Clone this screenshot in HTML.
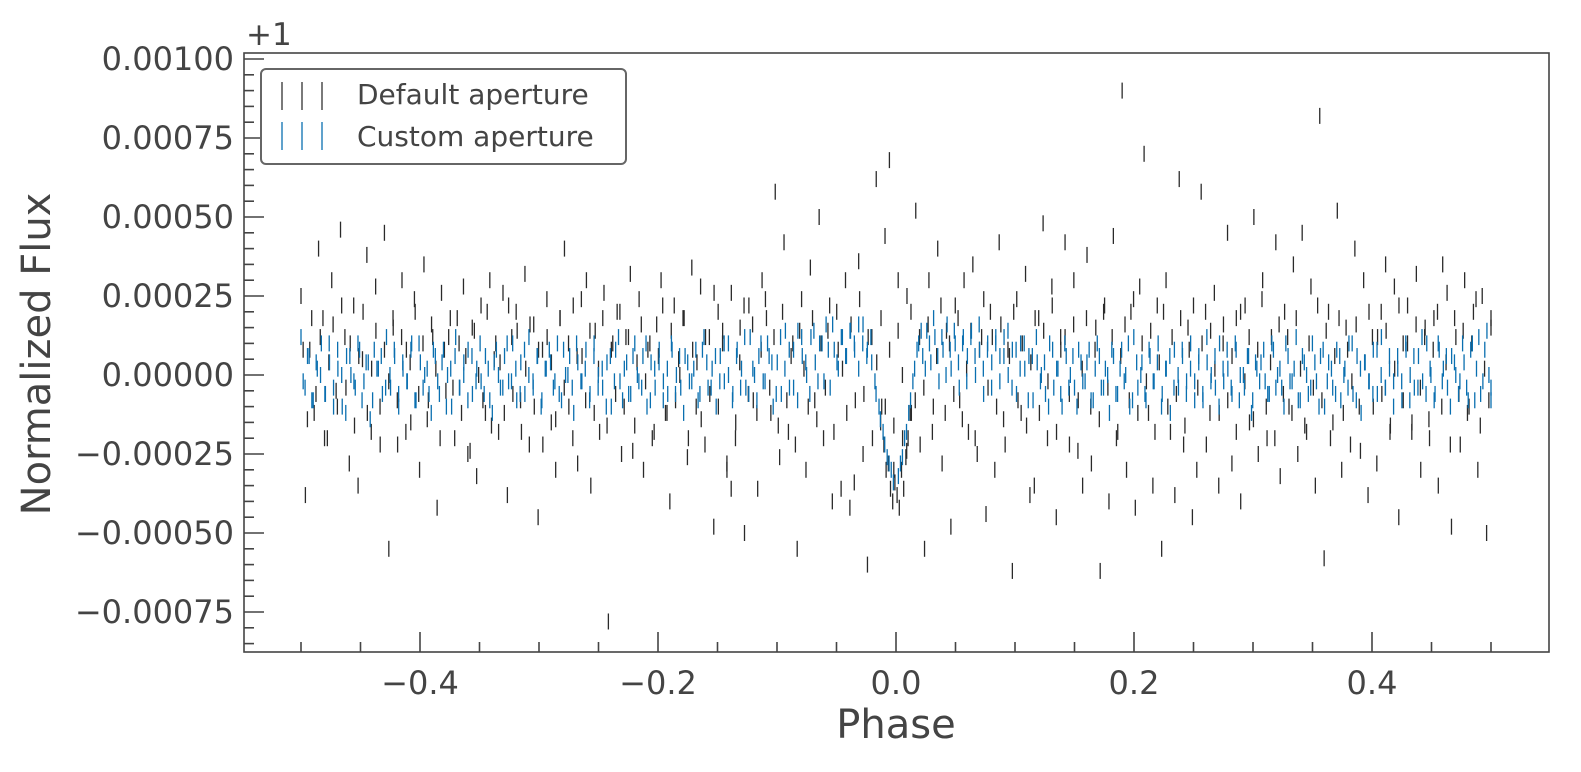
<!DOCTYPE html>
<html><head><meta charset="utf-8"><style>
html,body{margin:0;padding:0;background:#fff;overflow:hidden;width:1581px;height:772px;}
svg{display:block;font-family:"DejaVu Sans","Liberation Sans",sans-serif;}
</style></head><body>
<svg id="chart" width="1581" height="772" xmlns="http://www.w3.org/2000/svg">
<rect width="1581" height="772" fill="#fff"/>
<g id="marks"></g>
<g id="axes"></g>
<text x="246" y="45" font-size="31" fill="#444">+1</text>
<text x="896" y="738" font-size="40" fill="#444" text-anchor="middle">Phase</text>
<text transform="translate(50,354) rotate(-90)" font-size="40" fill="#444" text-anchor="middle">Normalized Flux</text>
<g>
<rect x="261" y="69" width="365" height="95" rx="5" fill="#fff" stroke="#666" stroke-width="2"/>
<g stroke="#333" stroke-width="1.3">
<line x1="282" y1="82" x2="282" y2="110"/><line x1="302" y1="82" x2="302" y2="110"/><line x1="322" y1="82" x2="322" y2="110"/></g>
<text x="357" y="104" font-size="28" fill="#444">Default aperture</text>
<g stroke="#0a6fb0" stroke-width="1.3">
<line x1="282" y1="122" x2="282" y2="150"/><line x1="302" y1="122" x2="302" y2="150"/><line x1="322" y1="122" x2="322" y2="150"/></g>
<text x="357" y="146" font-size="28" fill="#444">Custom aperture</text>
</g>
</svg>
<script>
// flux offsets in units of 1e-5 (relative to +1); each array spans its phase range evenly
const defaultFlux = [25,-38,8,-12,40,18,-20,30,-5,46,12,-28,22,-35,5,38,-18,28,-10,45,-55,15,-22,30,8,-15,20,-30,35,-8,12,-42,26,-5,18,-20,10,28,-25,15,-32,22,-12,30,5,-18,26,-38,12,20,-8,32,-22,16,-45,8,24,-15,-30,18,40,-10,22,-28,6,30,-35,14,-18,26,-78,10,20,-25,12,32,-16,24,-30,8,-20,16,30,-12,-40,22,5,18,-26,34,-10,28,-22,12,-48,20,10,-30,26,-15,15,-50,22,-8,-36,30,18,-12,58,-26,42,-18,10,-55,24,-30,34,-8,50,-20,14,-40,20,-36,30,-42,-34,36,-25,-60,12,62,-15,44,68,-30,30,-20,25,-12,52,-22,-55,30,-10,40,-28,14,-48,22,-8,30,-18,35,-25,12,-44,20,-30,42,-14,8,-62,24,-12,32,-38,-35,18,48,-20,28,-45,12,42,-22,30,-8,-35,38,-28,15,-62,22,-40,44,-18,90,-30,20,-42,28,70,-12,-35,22,-55,30,-18,-38,62,-22,15,-45,-30,58,20,-12,26,-35,10,45,-28,18,-40,22,-15,50,-25,30,-20,12,42,-32,20,-10,35,-25,45,-18,28,-35,82,-58,20,-15,52,-30,15,-22,40,-10,30,-38,12,-28,20,35,-18,28,-45,10,22,-15,32,-30,15,-20,18,-35,35,26,-48,12,-22,30,-10,20,-30,25,-50,15];
const defaultFluxB = [8,-14,18,-6,12,-20,4,16,-10,22,-4,10,-16,6,20,-12,2,14,-22,8,-2,18,-8,12,-18,4,24,-6,10,-14,16,2,-20,8,12,-4,18,-12,6,-24,14,0,-8,20,-16,10,4,-12,22,-6,14,-18,2,16,-10,8,-22,12,4,-14,18,-4,10,-20,6,24,-8,14,-12,2,18,-16,8,-6,20,-10,12,-24,4,16,-2,10,-18,6,22,-12,14,-8,0,18,-20,8,4,-14,12,-6,26,-10,14,-28,-36,-20,4,22,-6,16,-12,8,24,-4,12,-16,20,-8,6,-22,14,2,-10,18,-14,10,-4,22,-18,8,2,-12,16,-8,24,-6,12,-20,4,18,-10,8,-16,14,0,-24,20,-8,12,-4,16,-18,6,22,-12,10,-6,18,-14,2,14,-20,8,24,-4,12,-10,16,-22,6,20,-8,10,-16,4,18,-12,14,-2,22,-18,8,12,-6,16,-24,2,18,-10,8,-14,20,-4,12,-20,6,16,-8,24,-12,10,-2,14,-18,4,20,-10,12,-6,18,-16,8,22,-4,10,-22,14,2,-12,16,-8,6,-18,20,-2,12,-14,8,24,-10,4,-20,16,-6,12,-12,18,2,-16,10,-4,22,-8,14,-20,6,18,-12,8,-2,16,-24,4,20,-10,12,-6,14,-16,2,22,-8,10,-18,16,-4,12,-14,8,20,-10,4,-22,18,-6,14,-12,10,24,-16,2,-8,18];
// default aperture points inside the transit window (phase -0.012 .. 0.012)
const defaultTransit = [-10,-22,-30,-28,-36,-40,-34,-38,-42,-30,-36,-26,-20,-12];
const customLeft = [12,-4,6,-8,2,10,-6,4,-10,8,0,-12,6,-2,10,-8,4,-14,8,2,-6,12,-4,6,-10,4,-2,8,-8,10,-4,2,-12,6,-6,8,0,-10,12,-4,4,-8,6,-2,10,-6,2,-12,8,-4,6,-2,10,-8,4,-6,12,-2,6,-10,2,8,-4,10,-8,0,6,-12,4,-2,8,-6,10,-4,2,-10,6,-2,12,-8,4,-6,10,-2,6,-10,4,-4,8,-8,2,10,-6,6,-12,4,-2,8,-6,12,-4,2,-10,6,-2,10,-8,6,-4,12,-6,2,-8,10,-2,6,-10,4,-6,14,-4,8,-8,12,4,-6,14,-2,10,16,-4,8,2,12,6,14,8,16,10,6,12,-2,-10,-18,-26,-30];
const customLeftB = [-2,6,-8,4,0,-6,10,-4,2,-10,6,0,-4,8,-2,4,-8,2,6,-4,0,8,-6,2,-2,10,-8,4,0,-6,8,-2,4,-10,2,6,-4,0,8,-6,2,-2,6,-8,4,0,-4,10,-2,2,-6,8,0,-4,6,-8,2,4,-2,-6,8,0,-4,10,-2,2,-8,6,0,-4,4,-10,8,-2,2,-6,6,0,-4,10,-8,2,4,-2,-6,8,0,-4,6,-2,2,-8,8,4,-4,6,-2,10,0,-6,8,2,-4,12,0,6,-2,10,4,-6,12,2,8,-4,14,6,0,12,4,10,-2,8,16,4,12,6,14,10,2,16,8,4,-6,-14,-22,-28,-34];
const customRight = [-32,-26,-18,-8,2,10,6,14,4,12,-2,8,16,2,10,-4,12,6,14,0,8,-6,10,4,12,-2,6,14,-4,8,2,10,-8,6,12,-2,4,-10,8,2,-6,10,-4,6,-10,4,-2,8,-8,10,-4,2,-12,6,-6,8,0,-10,12,-4,4,-8,6,-2,10,-6,2,-12,8,-4,6,-2,10,-8,4,-6,12,-2,6,-10,2,8,-4,10,-8,0,6,-12,4,-2,8,-6,10,-4,2,-10,6,-2,12,-8,4,-6,10,-2,6,-10,4,-4,8,-8,2,10,-6,6,-12,4,-2,8,-6,12,-4,2,-10,6,-2,10,-8,6,-4,12,-6,2,-8,10,-2,6,-10,4,-6,10,-4,8,-8,12,-2,14,-8];
const customRightB = [-28,-20,-12,-2,8,14,2,10,18,6,12,0,8,14,4,10,-2,12,6,16,2,8,-4,10,6,12,0,8,-6,10,2,6,-8,4,0,-6,10,-4,2,-10,6,0,-4,8,-2,4,-8,2,6,-4,0,8,-6,2,-2,10,-8,4,0,-6,8,-2,4,-10,2,6,-4,0,8,-6,2,-2,6,-8,4,0,-4,10,-2,2,-6,8,0,-4,6,-8,2,4,-2,-6,8,0,-4,10,-2,2,-8,6,0,-4,4,-10,8,-2,2,-6,6,0,-4,10,-8,2,4,-2,-6,8,0,-4,6,-2,2,-8,8,0,-4,6,-2,10,0,-6,8,2,-4,6,0,-2,4,-8,10,2,-6,8,0,-4];
const xTicks = [-0.4,-0.2,0.0,0.2,0.4];
const xTickLabels = ["\u22120.4","\u22120.2","0.0","0.2","0.4"];
const yTicks = [0.001,0.00075,0.0005,0.00025,0,-0.00025,-0.0005,-0.00075];
const yTickLabels = ["0.00100","0.00075","0.00050","0.00025","0.00000","\u22120.00025","\u22120.00050","\u22120.00075"];

const L=244,R=1549,T=53,B=652;
const xs=v=>896+v*1190;
const ys=v=>375-v*316000;
const NS="http://www.w3.org/2000/svg";
function mk(tag,attrs,parent){const e=document.createElementNS(NS,tag);for(const k in attrs)e.setAttribute(k,attrs[k]);parent.appendChild(e);return e;}
const marks=document.getElementById('marks');
const axes=document.getElementById('axes');
function series(arr,color,name,p0,p1,shift){
  const g=mk('g',{stroke:color,'stroke-width':1.3},marks);
  
  
  const n=arr.length;
  const step=(p1-p0)/(n-1);
  arr.forEach((v,i)=>{
    let ph=p0+i*step+shift*step;
    if(ph>0.5)ph=0.5;
    const x=xs(ph),y=ys(v*1e-5);
    const l=mk('line',{x1:x,x2:x,y1:y-8,y2:y+8},g);
    
    
  });
}
const BLK='#2a2a2a',BLU='#0a6fb0';
series(defaultFlux,BLK,'default-aperture-series',-0.5,0.5,0);
series(defaultFluxB,BLK,'default-aperture-series-b',-0.5,0.5,0.5);
series(defaultTransit,BLK,'default-aperture-transit',-0.012,0.012,0);
series(customLeft,BLU,'custom-aperture-series-left',-0.5,-0.004,0);
series(customLeftB,BLU,'custom-aperture-series-left-b',-0.5,-0.004,0.5);
series(customRight,BLU,'custom-aperture-series-right',0.002,0.5,0);
series(customRightB,BLU,'custom-aperture-series-right-b',0.002,0.5,0.5);

const frame=mk('rect',{x:L,y:T,width:R-L,height:B-T,fill:'none',stroke:'#444','stroke-width':1.6},axes);


for(let k=-10;k<=10;k++){const v=k*0.05;const x=xs(v);if(x<L||x>R)continue;
  const major=xTicks.some(t=>Math.abs(t-v)<1e-9);
  const t=mk('line',{x1:x,x2:x,y1:B,y2:B-(major?20:10),stroke:'#444','stroke-width':1.6},axes);
  
  }
xTicks.forEach((v,i)=>{const t=mk('text',{x:xs(v),y:B+42,'font-size':32,fill:'#444','text-anchor':'middle'},axes);t.textContent=xTickLabels[i];
  
  });
for(let k=-20;k<=22;k++){const v=k*0.00005;const y=ys(v);if(y<T||y>B)continue;
  const major=yTicks.some(t=>Math.abs(t-v)<1e-12);
  const t=mk('line',{x1:L,x2:L+(major?20:10),y1:y,y2:y,stroke:'#444','stroke-width':1.6},axes);
  
  }
yTicks.forEach((v,i)=>{const t=mk('text',{x:L-10,y:ys(v)+11,'font-size':32,fill:'#444','text-anchor':'end'},axes);t.textContent=yTickLabels[i];
  
  });
</script>
</body></html>
